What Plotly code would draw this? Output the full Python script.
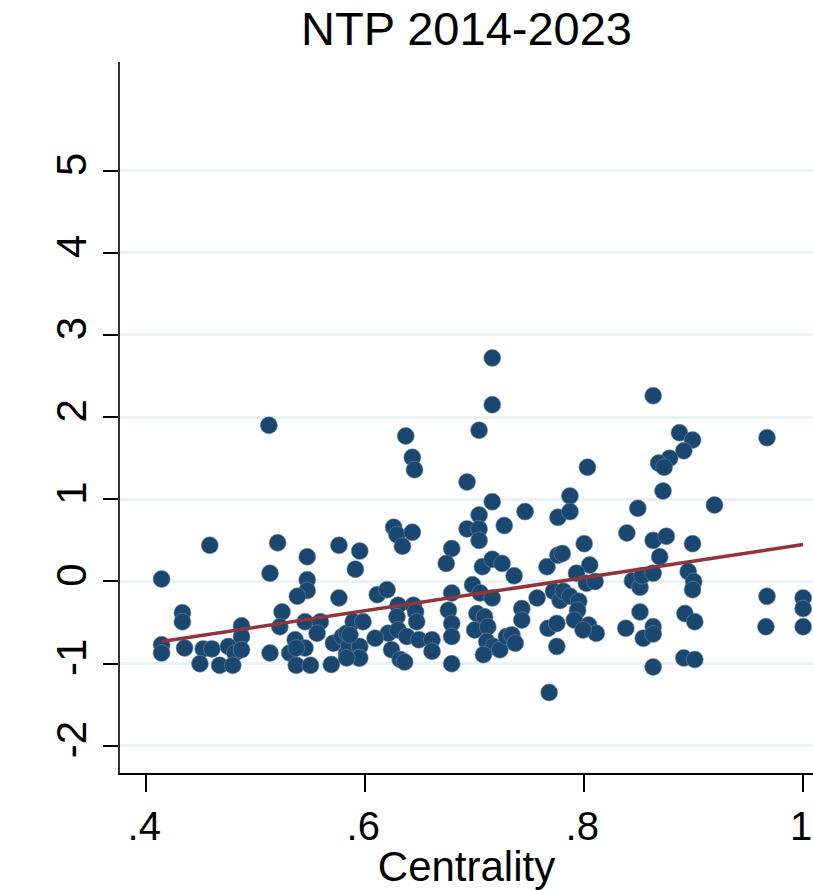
import plotly.graph_objects as go

# Centrality (x) and outcome (y)
centrality = [
    0.414, 0.458, 0.433, 0.433, 0.414, 0.414, 0.435, 0.452, 0.460, 0.475,
    0.481, 0.449, 0.467, 0.479, 0.487, 0.487, 0.487,
    0.512, 0.520, 0.547, 0.576, 0.513, 0.547, 0.547, 0.538, 0.576, 0.524,
    0.522, 0.545, 0.559, 0.556, 0.513, 0.531, 0.536, 0.545, 0.537, 0.550,
    0.569, 0.571, 0.579, 0.583, 0.583, 0.589, 0.598, 0.585, 0.595, 0.594,
    0.537,
    0.595, 0.591, 0.611, 0.620, 0.637, 0.643, 0.645, 0.626, 0.629, 0.634,
    0.643, 0.630, 0.644, 0.646, 0.629, 0.647, 0.586, 0.595, 0.583, 0.621,
    0.609, 0.630, 0.638, 0.649, 0.661, 0.661, 0.624, 0.632, 0.636,
    0.676, 0.679, 0.679, 0.679, 0.679, 0.679, 0.674,
    0.716, 0.716, 0.704, 0.693, 0.716, 0.704, 0.746, 0.727, 0.693, 0.704,
    0.704, 0.707, 0.716, 0.725, 0.736, 0.766, 0.776, 0.698, 0.705, 0.716,
    0.757, 0.772, 0.778, 0.743, 0.743, 0.702, 0.709, 0.700, 0.712, 0.711,
    0.717, 0.708, 0.723, 0.729, 0.734, 0.737, 0.767, 0.775, 0.775, 0.768,
    0.781, 0.787, 0.795, 0.794, 0.791, 0.804, 0.811, 0.799,
    0.787, 0.776, 0.787, 0.803, 0.780, 0.805, 0.793, 0.802, 0.810, 0.800,
    0.839, 0.849, 0.844, 0.851, 0.853, 0.863, 0.851, 0.838, 0.863, 0.854,
    0.863, 0.863,
    0.863, 0.887, 0.899, 0.891, 0.878, 0.868, 0.873, 0.967, 0.872, 0.919,
    0.863, 0.875, 0.899, 0.869, 0.895, 0.900, 0.899, 0.967, 1.000, 1.000,
    0.966, 1.000, 0.892, 0.901, 0.891, 0.901,
]
outcome = [
    0.03, 0.44, -0.38, -0.49, -0.77, -0.87, -0.81, -0.82, -0.82, -0.79,
    -0.87, -1.00, -1.02, -1.02, -0.54, -0.67, -0.83,
    1.90, 0.47, 0.30, 0.44, 0.10, 0.02, -0.11, -0.18, -0.20, -0.37,
    -0.55, -0.49, -0.49, -0.63, -0.87, -0.87, -0.71, -0.81, -1.02, -1.02,
    -1.01, -0.75, -0.67, -0.63, -0.87, -0.49, -0.49, -0.79, -0.79, -0.93,
    -0.81,
    0.37, 0.15, -0.16, -0.10, 1.77, 1.51, 1.36, 0.66, 0.57, 0.43,
    0.60, -0.29, -0.29, -0.37, -0.43, -0.49, -0.65, -0.93, -0.93, -0.63,
    -0.69, -0.59, -0.67, -0.71, -0.71, -0.85, -0.83, -0.95, -0.98,
    -0.35, -0.14, -0.51, -0.67, -1.00, 0.40, 0.22,
    2.72, 2.15, 1.84, 1.21, 0.97, 0.81, 0.85, 0.68, 0.64, 0.64,
    0.50, 0.18, 0.27, 0.22, 0.07, 0.18, 0.32, -0.04, -0.14, -0.20,
    -0.20, -0.12, -0.23, -0.33, -0.47, -0.39, -0.43, -0.59, -0.55, -0.73,
    -0.79, -0.89, -0.83, -0.67, -0.65, -0.75, -0.57, -0.51, -0.79, -1.35,
    -0.12, -0.18, -0.24, -0.35, -0.47, -0.53, -0.63, -0.59,
    1.04, 0.78, 0.85, 1.39, 0.34, 0.20, 0.10, -0.02, 0.00, 0.46,
    0.59, 0.89, 0.01, -0.07, 0.07, 0.10, -0.37, -0.57, -0.55, -0.69,
    -0.64, -1.04,
    2.26, 1.81, 1.72, 1.59, 1.50, 1.44, 1.39, 1.75, 1.10, 0.93,
    0.50, 0.55, 0.46, 0.30, 0.12, 0.00, -0.10, -0.18, -0.20, -0.33,
    -0.55, -0.55, -0.39, -0.49, -0.93, -0.95,
]

# Linear fit line endpoints
fit_x = [0.414, 1.0]
fit_y = [-0.73, 0.45]

x_ticks = [0.4, 0.6, 0.8, 1.0]
x_tick_labels = [".4", ".6", ".8", "1"]
y_ticks = [-2, -1, 0, 1, 2, 3, 4, 5]
y_tick_labels = ["-2", "-1", "0", "1", "2", "3", "4", "5"]

FONT = "Liberation Sans, Arial, Helvetica, sans-serif"
NAVY = "#1a476f"
MAROON = "#90353b"

fig = go.Figure()
fig.add_trace(go.Scatter(
    x=centrality, y=outcome, mode="markers",
    marker=dict(size=17, color=NAVY, line=dict(width=0.6, color="#6d8aa3")),
    showlegend=False, hoverinfo="x+y", cliponaxis=False,
))
fig.add_trace(go.Scatter(
    x=fit_x, y=fit_y, mode="lines",
    line=dict(color=MAROON, width=3.5),
    showlegend=False,
))

fig.update_layout(
    width=813, height=890,
    margin=dict(l=120, r=0, t=62, b=117),
    paper_bgcolor="white", plot_bgcolor="white",
    font=dict(family=FONT, color="black"),
    title=dict(text="NTP 2014-2023", x=0.5, xref="paper", xanchor="center",
               y=0.968, yref="container", yanchor="middle",
               font=dict(size=47, family=FONT, color="black")),
    xaxis=dict(
        range=[0.376, 1.009], tickvals=x_ticks, ticktext=x_tick_labels,
        automargin=False, ticklabeloverflow="allow", ticklabelshift=-2,
        showgrid=False, zeroline=False, showline=True, linecolor="black",
        linewidth=2, ticks="outside", ticklen=17, tickwidth=2,
        tickcolor="black", tickfont=dict(size=40, family=FONT),
        title=dict(text="Centrality", font=dict(size=42, family=FONT), standoff=2),
    ),
    yaxis=dict(
        range=[-2.33, 6.32], tickvals=y_ticks, ticktext=y_tick_labels,
        tickangle=-90, automargin=False, ticklabelstandoff=0,
        ticklabeloverflow="allow",
        showgrid=True, gridcolor="#eaf2f3", gridwidth=2.5, zeroline=False,
        showline=True, linecolor="#333333", linewidth=1.5, ticks="outside",
        ticklen=15, tickwidth=2, tickcolor="black",
        tickfont=dict(size=42, family=FONT),
    ),
)

fig.write_html("out.html", config={"displayModeBar": False},
               post_script="document.body.style.margin='0';")
